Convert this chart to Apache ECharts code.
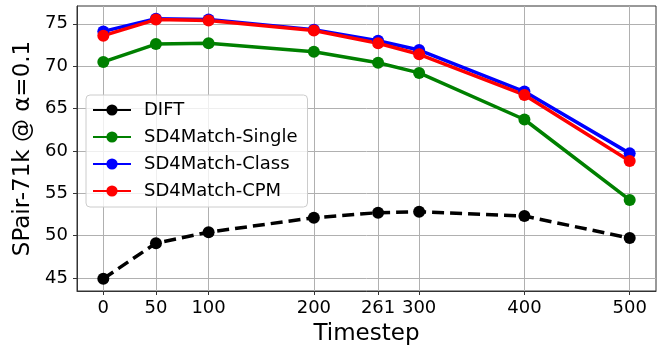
<!DOCTYPE html>
<html>
<head>
<meta charset="utf-8">
<script src="https://cdn.jsdelivr.net/npm/echarts@6/dist/echarts.min.js"></script>
<style>
  html, body { margin: 0; padding: 0; background: #fff; }
  #chart { width: 658px; height: 351px; }
</style>
</head>
<body>
<div id="chart"></div>
<script>
"use strict";
const timesteps = [0, 50, 100, 200, 261, 300, 400, 500];
const yTicks = [45, 50, 55, 60, 65, 70, 75];
const dift = [44.9, 49.1, 50.4, 52.1, 52.7, 52.8, 52.3, 49.7];
const sdSingle = [70.5, 72.6, 72.7, 71.7, 70.4, 69.2, 63.7, 54.2];
const sdClass = [74.1, 75.6, 75.5, 74.3, 73.0, 71.9, 67.0, 59.7];
const sdCpm = [73.6, 75.5, 75.4, 74.2, 72.7, 71.4, 66.6, 58.8];

const font = 'DejaVu Sans';
const chart = echarts.init(document.getElementById('chart'));

function pairs(values) {
    return timesteps.map((t, i) => [t, values[i]]);
}

function lineSeries(name, values, color, dashed) {
    return {
        name: name,
        type: 'line',
        data: pairs(values),
        symbol: 'circle',
        symbolSize: 12,
        itemStyle: { color: color },
        lineStyle: { color: color, width: 3.5, type: dashed ? [12, 6] : 'solid' },
        emphasis: { disabled: true },
        animation: false
    };
}

const option = {
    animation: false,
    grid: {
        left: 77, right: 2, top: 6, bottom: 58,
        show: true, borderColor: '#333', borderWidth: 1
    },
    legend: {
        orient: 'vertical',
        left: 86, top: 95,
        itemWidth: 38, itemHeight: 14, itemGap: 9,
        padding: [6, 10, 7, 6],
        backgroundColor: 'rgba(255,255,255,0.8)',
        borderColor: '#ccc', borderWidth: 1, borderRadius: 4,
        lineStyle: { type: 'solid' },
        textStyle: { fontFamily: font, fontSize: 18, color: '#000', padding: [0, 0, 0, 8] },
        data: ['DIFT', 'SD4Match-Single', 'SD4Match-Class', 'SD4Match-CPM']
    },
    xAxis: {
        type: 'value',
        min: -25, max: 525,
        name: 'Timestep',
        nameLocation: 'middle',
        nameGap: 32,
        nameTextStyle: { fontFamily: font, fontSize: 23, color: '#000' },
        axisLine: { show: true, onZero: false, lineStyle: { color: '#333' } },
        axisTick: { show: true, length: 4, lineStyle: { color: '#333' }, customValues: timesteps },
        axisLabel: { fontFamily: font, fontSize: 18, color: '#000', margin: 8, customValues: timesteps },
        splitLine: { show: true, lineStyle: { color: '#b0b0b0', width: 1 } }
    },
    yAxis: {
        type: 'value',
        min: 43.45, max: 77.1,
        name: 'SPair-71k @ α=0.1',
        nameLocation: 'middle',
        nameGap: 40,
        nameTextStyle: { fontFamily: font, fontSize: 23, color: '#000' },
        axisLine: { show: true, onZero: false, lineStyle: { color: '#333' } },
        axisTick: { show: true, length: 4, lineStyle: { color: '#333' }, customValues: yTicks },
        axisLabel: { fontFamily: font, fontSize: 18, color: '#000', margin: 9, customValues: yTicks },
        splitLine: { show: true, lineStyle: { color: '#b0b0b0', width: 1 } }
    },
    series: [
        lineSeries('DIFT', dift, '#000000', true),
        lineSeries('SD4Match-Single', sdSingle, '#008000', false),
        lineSeries('SD4Match-Class', sdClass, '#0000ff', false),
        lineSeries('SD4Match-CPM', sdCpm, '#ff0000', false)
    ]
};
chart.setOption(option);
</script>
</body>
</html>
